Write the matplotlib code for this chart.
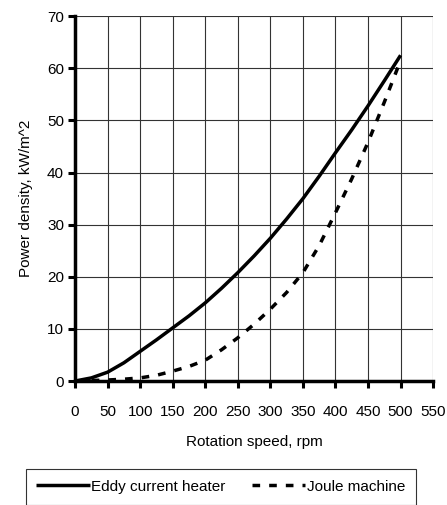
import matplotlib
matplotlib.use("Agg")
import matplotlib.pyplot as plt

rpm = [0, 25, 50, 75, 100, 125, 150, 175, 200, 225, 250, 275, 300, 325, 350, 375, 400, 425, 450, 475, 500]
eddy = [0, 0.6, 1.7, 3.5, 5.7, 7.9, 10.2, 12.5, 15.0, 17.8, 20.8, 24.0, 27.4, 31.1, 35.0, 39.3, 43.8, 48.2, 52.8, 57.6, 62.5]
joule = [0, 0.1, 0.2, 0.35, 0.6, 1.1, 1.9, 2.8, 4.0, 6.0, 8.3, 10.9, 13.8, 17.0, 20.8, 26.0, 32.3, 38.8, 45.8, 53.5, 61.5]

xticks = list(range(0, 551, 50))
yticks = list(range(0, 71, 10))

plt.rcParams['font.family'] = ['Liberation Sans', 'DejaVu Sans']

fig = plt.figure(figsize=(4.47, 5.05), dpi=100)
ax = fig.add_axes([0.168, 0.2455, 0.801, 0.7225])

ax.plot(rpm, eddy, color='black', lw=2.5, label='Eddy current heater', solid_capstyle='butt')
ax.plot(rpm, joule, color='black', lw=2.5, dashes=(2.2, 2.6), label='Joule machine')

ax.set_xlim(0, 550)
ax.set_ylim(0, 70)
ax.set_xticks(xticks)
ax.set_yticks(yticks)
ax.grid(True, color='#333333', lw=0.8)
ax.set_axisbelow(True)
for s in ['top', 'right']:
    ax.spines[s].set_visible(False)
for s in ['left', 'bottom']:
    ax.spines[s].set_linewidth(2.5)
ax.tick_params(axis='both', direction='out', length=5, width=2.2, labelsize=11)
ax.tick_params(axis='x', pad=12)
ax.tick_params(axis='y', pad=3)

ax.set_xlabel('Rotation speed, rpm', fontsize=11, labelpad=12)
ax.set_ylabel('Power density, kW/m^2', fontsize=11, labelpad=10)

leg = fig.legend(loc='center', bbox_to_anchor=(0.494, 0.036), ncol=2, fontsize=11,
                 frameon=True, fancybox=False, edgecolor='black', handlelength=3.5,
                 columnspacing=1.7, handletextpad=0.1, borderpad=0.7)
leg.get_frame().set_linewidth(0.8)

fig.savefig('out.png', dpi=100)
